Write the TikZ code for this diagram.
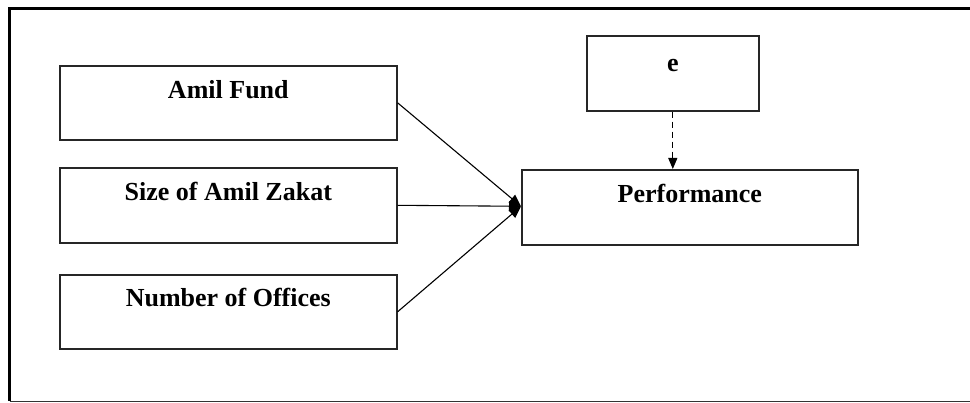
\documentclass[tikz,border=0pt]{standalone}
\usepackage{fontspec}
\setmainfont{Liberation Serif}
\usetikzlibrary{arrows.meta}
\begin{document}
\begin{tikzpicture}[x=1pt,y=-1pt,
  box/.style={draw=black!85, line width=1.6pt, rectangle, anchor=north west, inner sep=0pt},
  lbl/.style={anchor=base, inner sep=0pt, font=\fontsize{26}{30}\selectfont\bfseries},
  conn/.style={line width=1.1pt, -{Triangle[length=12pt,width=10pt]}},
  dconn/.style={line width=1.1pt, dash pattern=on 6pt off 4pt, -{Triangle[length=11pt,width=9pt]}}]
\useasboundingbox (0,0) rectangle (970,403);
% frame
\draw[line width=3pt] (9.5,401) -- (9.5,9) -- (970,9);
\draw[line width=1.5pt, black!80] (9.5,401.5) -- (970,401.5);
% boxes
\node[box, minimum width=337pt, minimum height=74pt] (af) at (59,65) {};
\node[box, minimum width=337pt, minimum height=75pt] (sz) at (59,167) {};
\node[box, minimum width=337pt, minimum height=74pt] (no) at (59,274) {};
\node[box, minimum width=172pt, minimum height=75pt] (e) at (586,35) {};
\node[box, minimum width=336pt, minimum height=75pt] (pf) at (521,169) {};
% labels
\node[lbl] (afl) at ([yshift=-34pt]af.north) {Amil Fund};
\node[lbl] (szl) at ([yshift=-34pt]sz.north) {Size of Amil Zakat};
\node[lbl] (nol) at ([yshift=-33pt]no.north) {Number of Offices};
\node[lbl] (el) at ([yshift=-37pt]e.north) {e};
\node[lbl] (pfl) at ([yshift=-34pt]pf.north) {Performance};
% connectors
\draw[conn] (af.east) -- ([yshift=1pt]pf.west);
\draw[conn] (sz.east) -- ([yshift=1pt]pf.west);
\draw[conn] (no.east) -- ([yshift=1pt]pf.west);
\draw[dconn] (e.south) -- (e.south |- pf.north);
\end{tikzpicture}
\end{document}
